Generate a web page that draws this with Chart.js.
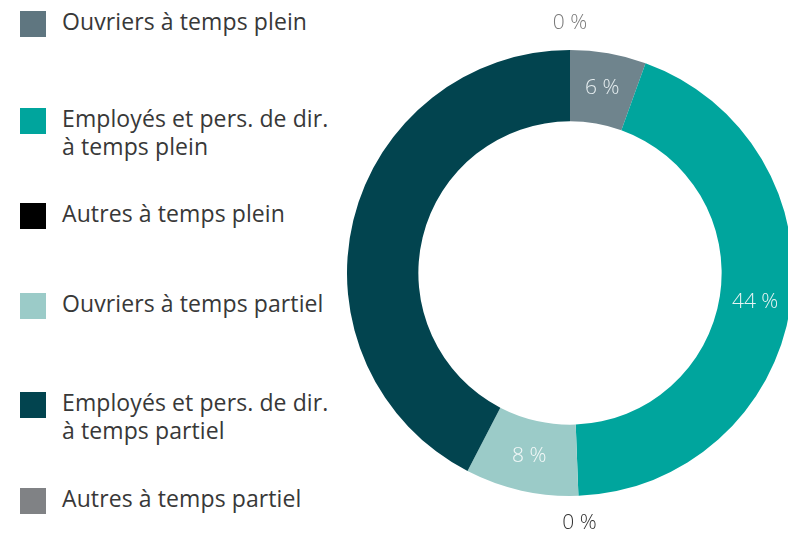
<!DOCTYPE html>
<html>
<head>
<meta charset="utf-8">
<script src="https://cdn.jsdelivr.net/npm/chart.js@4/dist/chart.umd.min.js"></script>
<style>
  html, body { margin: 0; padding: 0; background: #ffffff; overflow: hidden; width: 788px; height: 533px; }
  #legend { position: absolute; left: 0; top: 0; width: 340px; height: 533px; font-family: "Open Sans", Lato, sans-serif; }
  .item { position: absolute; left: 20px; }
  .sw { position: absolute; left: 0; top: 0; width: 26px; height: 26px; }
  .tx { position: absolute; left: 42px; top: -4px; white-space: pre; font-size: 23px; line-height: 28px; color: #383838; letter-spacing: 0.1px; }
  #wrap { position: absolute; left: 347px; top: 0; width: 446px; height: 533px; }
</style>
</head>
<body>
<div id="legend"></div>
<div id="wrap"><canvas id="c"></canvas></div>
<script>
// ---- data ----
const categories = [
  "Ouvriers à temps plein",
  "Employés et pers. de dir.\nà temps plein",
  "Autres à temps plein",
  "Ouvriers à temps partiel",
  "Employés et pers. de dir.\nà temps partiel",
  "Autres à temps partiel"
];
const values = [5.5, 43.9, 0, 8.2, 42.4, 0];
const valueLabels = ["6 %", "44 %", "0 %", "8 %", "", "0 %"];

// ---- styles ----
const colors = ["#6f848d", "#00a59d", "#000000", "#9bcbc8", "#02444f", "#808285"];
const legendColors = ["#5f7680", "#00a59d", "#000000", "#9bcbc8", "#02444f", "#808285"];
const labelColors = ["#e6eef0", "#e6f4f3", "#333333", "#f4f9f9", "#02444f", "#7a7a7a"];
const legendTops = [11, 108, 203, 293, 392, 488];

// legend
const leg = document.getElementById('legend');
categories.forEach((c, i) => {
  const it = document.createElement('div');
  it.className = 'item';
  it.style.top = legendTops[i] + 'px';
  const sw = document.createElement('div');
  sw.className = 'sw';
  sw.style.background = legendColors[i];
  const tx = document.createElement('div');
  tx.className = 'tx';
  tx.textContent = c;
  it.appendChild(sw); it.appendChild(tx);
  leg.appendChild(it);
});

const labelPlugin = {
  id: 'valueLabels',
  afterDatasetsDraw(chart) {
    const ctx = chart.ctx;
    const meta = chart.getDatasetMeta(0);
    ctx.save();
    ctx.font = '300 21px "Open Sans", Lato, sans-serif';
    ctx.textAlign = 'center';
    ctx.textBaseline = 'middle';
    meta.data.forEach((arc, i) => {
      const txt = valueLabels[i];
      if (!txt) return;
      const p = arc.getProps(['x', 'y', 'startAngle', 'endAngle', 'innerRadius', 'outerRadius'], true);
      const mid = (p.startAngle + p.endAngle) / 2;
      const r = values[i] > 0 ? (p.innerRadius + p.outerRadius) / 2 : p.outerRadius + 27;
      ctx.fillStyle = labelColors[i];
      ctx.fillText(txt, p.x + Math.cos(mid) * r, p.y + Math.sin(mid) * r);
    });
    ctx.restore();
  }
};

new Chart(document.getElementById('c'), {
  type: 'doughnut',
  data: {
    labels: categories,
    datasets: [{
      data: values,
      backgroundColor: colors,
      borderWidth: 0
    }]
  },
  options: {
    responsive: true,
    maintainAspectRatio: false,
    animation: false,
    cutout: '68%',
    layout: { padding: { top: 50, bottom: 37, left: 0, right: 0 } },
    plugins: { legend: { display: false }, tooltip: { enabled: false } }
  },
  plugins: [labelPlugin]
});
</script>
</body>
</html>
